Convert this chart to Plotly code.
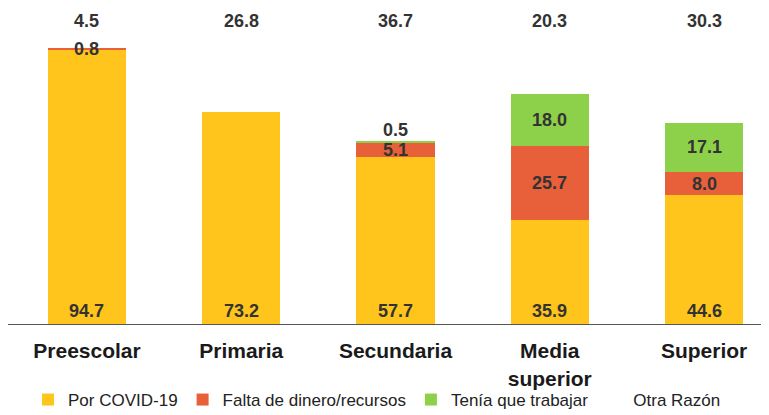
import plotly.graph_objects as go

categories = ["Preescolar", "Primaria", "Secundaria", "Media<br>superior", "Superior"]
covid = [94.7, 73.2, 57.7, 35.9, 44.6]
falta = [0.8, 0.0, 5.1, 25.7, 8.0]
trabajar = [0.0, 0.0, 0.5, 18.0, 17.1]
otra = [4.5, 26.8, 36.7, 20.3, 30.3]

series = [
    ("Por COVID-19", covid, "#FFC51C"),
    ("Falta de dinero/recursos", falta, "#E8603A"),
    ("Tenía que trabajar", trabajar, "#8DD04A"),
    ("Otra Razón", otra, "#FFFFFF"),
]

fig = go.Figure()
for name, vals, col in series:
    fig.add_trace(go.Bar(x=categories, y=vals, name=name, marker_color=col,
                         marker_line_width=0, showlegend=False, hoverinfo="skip"))
    fig.add_trace(go.Scatter(x=[None], y=[None], mode="markers", name=name,
                             marker=dict(symbol="square", size=9, color=col)))

label_font = dict(family="Liberation Sans, Arial", size=18, color="#333333")
annotations = []
base = [0.0] * len(categories)
for si, (name, vals, col) in enumerate(series):
    for i, v in enumerate(vals):
        if v <= 0:
            continue
        txt = f"<b>{v:.1f}</b>"
        if si == 0:
            annotations.append(dict(x=categories[i], y=base[i], text=txt, showarrow=False,
                                    yanchor="bottom", yshift=1, font=label_font))
        elif si == len(series) - 1:
            annotations.append(dict(x=categories[i], y=base[i] + v, text=txt, showarrow=False,
                                    yanchor="bottom", yshift=2, font=label_font))
        elif v < 2 and si == 2:
            annotations.append(dict(x=categories[i], y=base[i] + v, text=txt, showarrow=False,
                                    yanchor="bottom", yshift=-1, font=label_font))
        else:
            annotations.append(dict(x=categories[i], y=base[i] + v / 2, text=txt, showarrow=False,
                                    yanchor="middle", font=label_font))
        base[i] += v

fig.update_layout(
    width=761, height=407,
    barmode="stack", bargap=0.494,
    margin=dict(l=0, r=0, t=27, b=91, autoexpand=False),
    paper_bgcolor="white", plot_bgcolor="white",
    font=dict(family="Liberation Sans, Arial", color="#222222"),
    annotations=annotations,
    legend=dict(orientation="h", xref="container", yref="container",
                x=20 / 761, xanchor="left", y=15 / 407, yanchor="middle",
                traceorder="normal",
                font=dict(size=17, color="#222222"), itemsizing="constant",
                bgcolor="rgba(0,0,0,0)"),
    xaxis=dict(range=[-0.512, 4.421], showline=True, linecolor="#555555", linewidth=1,
               showgrid=False, ticks="", ticklabelstandoff=8, automargin=False,
               tickfont=dict(size=21, color="#1a1a1a", family="Liberation Sans, Arial"),
               tickprefix="<b>", ticksuffix="</b>"),
    yaxis=dict(range=[0, 100], visible=False, showgrid=False, automargin=False),
)

fig.write_html("out.html")
